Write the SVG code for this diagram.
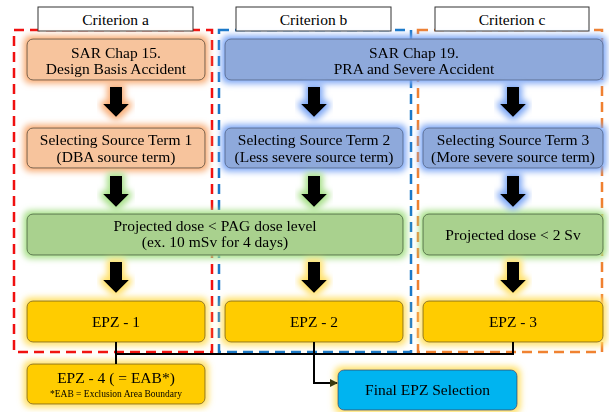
<svg xmlns="http://www.w3.org/2000/svg" width="609" height="412" viewBox="0 0 609 412">
<style>
  text { font-family: "Liberation Serif", "Times New Roman", serif; font-size: 15.5px; fill: #000; text-anchor: middle; }
  .small { font-size: 9.5px; }
  .crit { fill: #fff; stroke: #333; stroke-width: 1; }
  .box { stroke: #6b5a48; stroke-width: 1; }
  .orange { fill: #F7C49D; }
  .blue { fill: #8EA9DB; stroke: #5d6f93; }
  .green { fill: #A9D18E; stroke: #55704a; }
  .yellow { fill: #FFCC00; stroke: #8a7020; }
  .cyan { fill: #00B4F0; stroke: #2b5f80; }
  .arr { fill: #000; }
  .dash { fill: none; stroke-width: 2.5; stroke-dasharray: 10 6; }
  .conn { fill: none; stroke: #000; stroke-width: 2; }
</style>
<defs>
  <filter id="gO" x="-20%" y="-50%" width="140%" height="200%">
    <feMorphology in="SourceAlpha" operator="dilate" radius="2.5" result="d"/>
    <feGaussianBlur in="d" stdDeviation="3" result="b"/>
    <feFlood flood-color="#F8AE78"/>
    <feComposite in2="b" operator="in" result="g"/>
    <feMerge><feMergeNode in="g"/><feMergeNode in="SourceGraphic"/></feMerge>
  </filter>
  <filter id="gB" x="-20%" y="-50%" width="140%" height="200%">
    <feMorphology in="SourceAlpha" operator="dilate" radius="2.5" result="d"/>
    <feGaussianBlur in="d" stdDeviation="3" result="b"/>
    <feFlood flood-color="#7FA8F5"/>
    <feComposite in2="b" operator="in" result="g"/>
    <feMerge><feMergeNode in="g"/><feMergeNode in="SourceGraphic"/></feMerge>
  </filter>
  <filter id="gG" x="-20%" y="-50%" width="140%" height="200%">
    <feMorphology in="SourceAlpha" operator="dilate" radius="2.5" result="d"/>
    <feGaussianBlur in="d" stdDeviation="3" result="b"/>
    <feFlood flood-color="#A8E08A"/>
    <feComposite in2="b" operator="in" result="g"/>
    <feMerge><feMergeNode in="g"/><feMergeNode in="SourceGraphic"/></feMerge>
  </filter>
  <filter id="gY" x="-20%" y="-50%" width="140%" height="200%">
    <feMorphology in="SourceAlpha" operator="dilate" radius="2.5" result="d"/>
    <feGaussianBlur in="d" stdDeviation="3" result="b"/>
    <feFlood flood-color="#FFE066"/>
    <feComposite in2="b" operator="in" result="g"/>
    <feMerge><feMergeNode in="g"/><feMergeNode in="SourceGraphic"/></feMerge>
  </filter>
  <marker id="ah" markerWidth="8" markerHeight="8" refX="7" refY="4" orient="auto" markerUnits="userSpaceOnUse">
    <path d="M0,0 L8,4 L0,8 Z" fill="#3a3a10"/>
  </marker>
</defs>

<!-- dashed criterion regions -->
<g id="regions">
  <rect class="dash" x="14" y="30" width="198" height="322" stroke="#F01010"/>
  <rect class="dash" x="219" y="30" width="192" height="322" stroke="#1a78c8"/>
  <rect class="dash" x="418" y="30" width="184" height="322" stroke="#F08030"/>
</g>

<!-- criterion headers -->
<g id="crit-a"><rect class="crit" x="38" y="7" width="155" height="24"/><text x="115.5" y="25">Criterion a</text></g>
<g id="crit-b"><rect class="crit" x="236" y="7" width="155" height="24"/><text x="313.5" y="25">Criterion b</text></g>
<g id="crit-c"><rect class="crit" x="435" y="7" width="154" height="24"/><text x="512" y="25">Criterion c</text></g>

<!-- row 1 -->
<g id="sar15" filter="url(#gO)"><rect class="box orange" x="27" y="39" width="178" height="41" rx="6"/>
  <text x="116" y="58">SAR Chap 15.</text><text x="116" y="74">Design Basis Accident</text></g>
<g id="sar19" filter="url(#gB)"><rect class="box blue" x="225" y="39" width="378" height="41" rx="6"/>
  <text x="414" y="58">SAR Chap 19.</text><text x="414" y="74">PRA and Severe Accident</text></g>

<!-- row 2 -->
<g id="st1" filter="url(#gO)"><rect class="box orange" x="27" y="128" width="178" height="40" rx="6"/>
  <text x="116" y="145">Selecting Source Term 1</text><text x="116" y="162">(DBA source term)</text></g>
<g id="st2" filter="url(#gB)"><rect class="box blue" x="225" y="128" width="178" height="40" rx="6"/>
  <text x="314" y="145">Selecting Source Term 2</text><text x="314" y="162">(Less severe source term)</text></g>
<g id="st3" filter="url(#gB)"><rect class="box blue" x="423" y="128" width="180" height="40" rx="6"/>
  <text x="513" y="145">Selecting Source Term 3</text><text x="513" y="162">(More severe source term)</text></g>

<!-- row 3 -->
<g id="pd1" filter="url(#gG)"><rect class="box green" x="27" y="214" width="376" height="41" rx="6"/>
  <text x="215" y="231">Projected dose &lt; PAG dose level</text><text x="215" y="247">(ex. 10 mSv for 4 days)</text></g>
<g id="pd2" filter="url(#gG)"><rect class="box green" x="423" y="214" width="180" height="41" rx="6"/>
  <text x="513" y="240">Projected dose &lt; 2 Sv</text></g>

<!-- row 4 -->
<g id="epz1" filter="url(#gY)"><rect class="box yellow" x="27" y="301" width="178" height="41" rx="6"/>
  <text x="116" y="327">EPZ - 1</text></g>
<g id="epz2" filter="url(#gY)"><rect class="box yellow" x="225" y="301" width="178" height="41" rx="6"/>
  <text x="314" y="327">EPZ - 2</text></g>
<g id="epz3" filter="url(#gY)"><rect class="box yellow" x="423" y="301" width="180" height="41" rx="6"/>
  <text x="513" y="327">EPZ - 3</text></g>

<g id="epz4" filter="url(#gY)"><rect class="box yellow" x="27" y="364" width="178" height="40" rx="6"/>
  <text x="116" y="383">EPZ - 4 ( = EAB*)</text><text class="small" x="116" y="397">*EAB = Exclusion Area Boundary</text></g>
<g id="final" filter="url(#gY)"><rect class="box cyan" x="338" y="370" width="179" height="40" rx="6"/>
  <text x="427.5" y="395">Final EPZ Selection</text></g>

<!-- block arrows -->
<g id="arrows">
  <path class="arr" filter="url(#gO)" d="M110,87 H122 V104 H129 L116,117 L103,104 H110 Z"/>
  <path class="arr" filter="url(#gB)" d="M308,87 H320 V104 H327 L314,117 L301,104 H308 Z"/>
  <path class="arr" filter="url(#gB)" d="M507,87 H519 V104 H526 L513,117 L500,104 H507 Z"/>
  <path class="arr" filter="url(#gG)" d="M110,176 H122 V194 H129 L116,207 L103,194 H110 Z"/>
  <path class="arr" filter="url(#gG)" d="M308,176 H320 V194 H327 L314,207 L301,194 H308 Z"/>
  <path class="arr" filter="url(#gB)" d="M507,176 H519 V194 H526 L513,207 L500,194 H507 Z"/>
  <path class="arr" filter="url(#gY)" d="M110,262 H122 V280 H129 L116,293 L103,280 H110 Z"/>
  <path class="arr" filter="url(#gY)" d="M308,262 H320 V280 H327 L314,293 L301,280 H308 Z"/>
  <path class="arr" filter="url(#gY)" d="M507,262 H519 V280 H526 L513,293 L500,280 H507 Z"/>
</g>

<!-- connectors -->
<g id="connectors">
  <path class="conn" d="M116,342 V364"/>
  <path class="conn" d="M116,354 H513 V342"/>
  <path class="conn" d="M314,342 V383 H337" marker-end="url(#ah)"/>
</g>
</svg>
